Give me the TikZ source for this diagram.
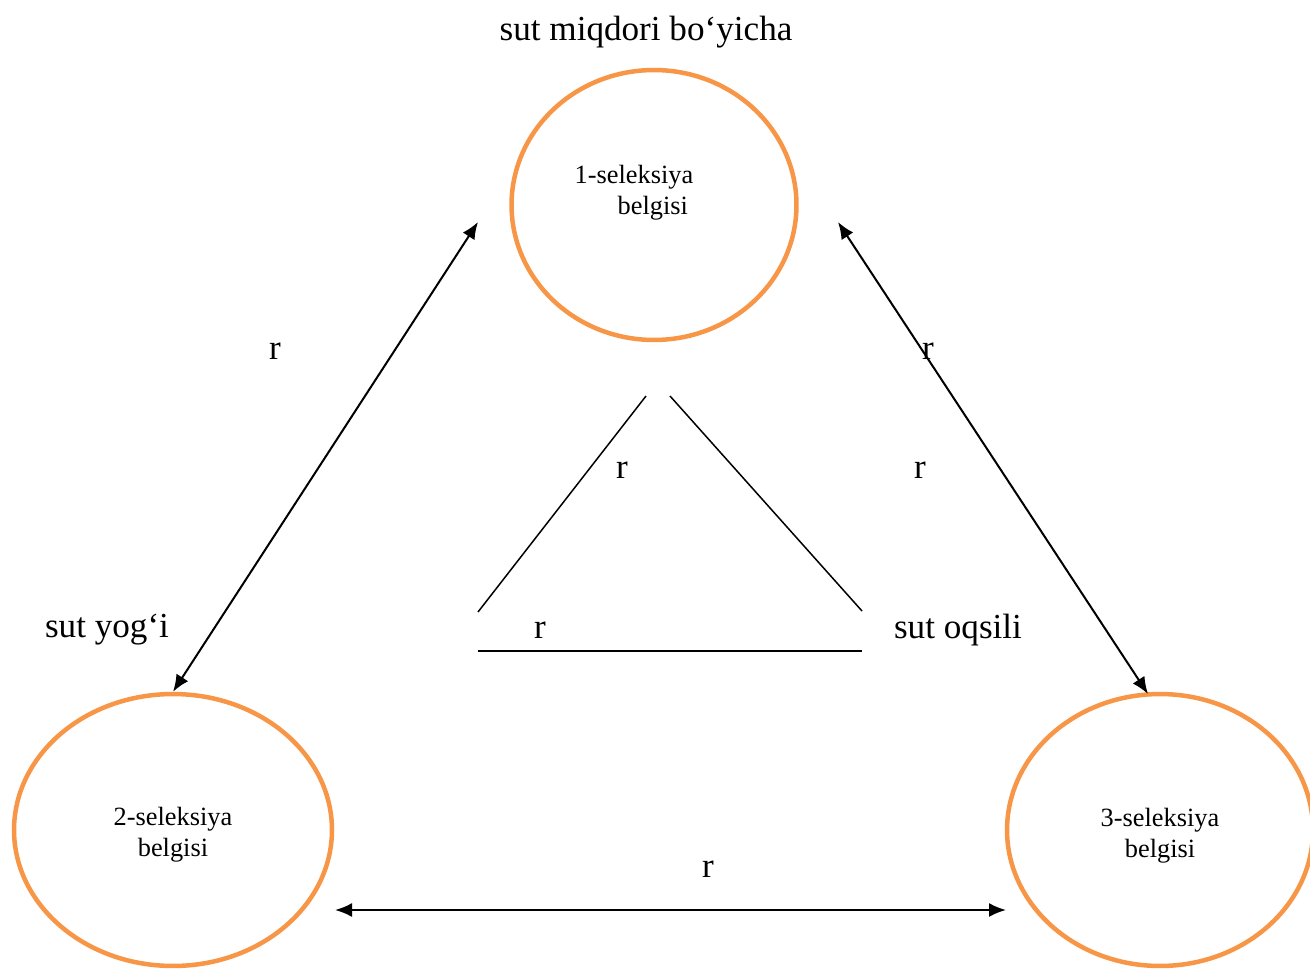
\documentclass[tikz,border=0pt]{standalone}
\usepackage{fontspec}
\setmainfont{Liberation Serif}
\usetikzlibrary{arrows.meta,shapes.geometric}
\definecolor{SelOrange}{HTML}{F79646}
\tikzset{
  selbox/.style={draw=SelOrange,line width=0.09cm,ellipse,inner sep=0pt},
  seltext/.style={font=\fontsize{15}{17.6}\selectfont,inner sep=0pt},
  biglabel/.style={font=\fontsize{20}{24}\selectfont,inner sep=0pt},
  link/.style={<->,line width=0.04cm},
  trisegment/.style={line width=0.03cm}
}

\begin{document}
\begin{tikzpicture}[>={Latex[length=0.34cm,width=0.28cm]},x=0.02cm,y=-0.02cm]
  \useasboundingbox (0,0) rectangle (1310,969);
  % selection traits
  \node[selbox,minimum width=5.7cm,minimum height=5.4cm] (sel1) at (654,205) {};
  \node[selbox,minimum width=6.36cm,minimum height=5.44cm] (sel2) at (173,830) {};
  \node[selbox,minimum width=6.12cm,minimum height=5.44cm] (sel3) at (1160,830) {};
  \node[seltext,align=left] (txt1) at (634,193) {1-seleksiya\\\hspace*{0.86cm}belgisi};
  \node[seltext,align=center] (txt2) at (173,835) {2-seleksiya\\belgisi};
  \node[seltext,align=center] (txt3) at (1160,836) {3-seleksiya\\belgisi};
  % free arrow ends
  \coordinate (end1l) at (478,222);
  \coordinate (end1r) at (838,222);
  \coordinate (end3t) at (1148,694);
  \coordinate (end2b) at (335,910);
  \coordinate (end3b) at (1006,910);
  \draw[link] (sel2.north) -- (end1l);
  \draw[link] (end1r) -- (end3t);
  \draw[link] (end2b) -- (end3b);
  % small triangle
  \draw[trisegment] (478,612) -- (646,396);
  \draw[trisegment] (670,396) -- (862,611);
  \draw[trisegment] (478,651) -- (862,651);
  % labels
  \node[biglabel] (title) at (646,32) {sut miqdori bo‘yicha};
  \node[biglabel] (fat) at (107,630) {sut yog‘i};
  \node[biglabel] (protein) at (958,630) {sut oqsili};
  \node[biglabel] (r1) at (275,351) {r};
  \node[biglabel] (r2) at (928,351) {r};
  \node[biglabel] (r3) at (622,470) {r};
  \node[biglabel] (r4) at (920,470) {r};
  \node[biglabel] (r5) at (540,630) {r};
  \node[biglabel] (r6) at (708,869) {r};
\end{tikzpicture}
\end{document}
